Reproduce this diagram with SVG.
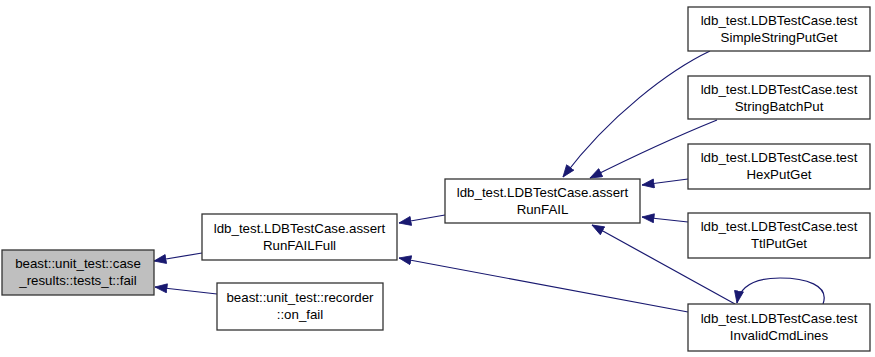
<svg xmlns="http://www.w3.org/2000/svg" width="875" height="357" viewBox="0 0 875 357">
  <style>
    .node rect { fill: #ffffff; stroke: #333333; stroke-width: 1.3; }
    .node.current rect { fill: #bfbfbf; }
    .node text { font-family: "Liberation Sans", Arial, sans-serif; font-size: 13.3px; fill: #000000; text-anchor: middle; }
    .edge { fill: none; stroke: #191970; stroke-width: 1.2; marker-end: url(#arrow); }
  </style>
  <defs>
    <marker id="arrow" markerUnits="userSpaceOnUse" markerWidth="14" markerHeight="11" refX="12.5" refY="5" orient="auto">
      <path d="M0.5,0.5 L12.5,5 L0.5,9.5 z" fill="#191970" stroke="#191970" stroke-width="0.8"/>
    </marker>
  </defs>
  <rect width="875" height="357" fill="#ffffff"/>

  <g id="edges">
    <path class="edge" d="M202,253 L154,261"/>
    <path class="edge" d="M217,294 L155,287"/>
    <path class="edge" d="M445,215 L399,223"/>
    <path class="edge" d="M688,312 L399,258"/>
    <path class="edge" d="M710,51 C670,70 610,115 563,177"/>
    <path class="edge" d="M717,120 C680,135 630,158 590,178"/>
    <path class="edge" d="M688,179 L642,185"/>
    <path class="edge" d="M688,222 L642,217"/>
    <path class="edge" d="M735,304 L592,225"/>
    <path class="edge" d="M823,304 C830,285 805,278 780,278 C755,278 740,285 737,303"/>
  </g>

  <g id="node-fail" class="node current">
    <rect x="2" y="250" width="152" height="45"/>
    <text x="78" y="268">beast::unit_test::case</text>
    <text x="78" y="285">_results::tests_t::fail</text>
  </g>
  <g id="node-assertRunFAILFull" class="node">
    <rect x="202" y="214" width="195" height="46"/>
    <text x="299.5" y="233">ldb_test.LDBTestCase.assert</text>
    <text x="299.5" y="250">RunFAILFull</text>
  </g>
  <g id="node-on_fail" class="node">
    <rect x="217" y="283" width="166" height="47"/>
    <text x="300" y="302">beast::unit_test::recorder</text>
    <text x="300" y="319">::on_fail</text>
  </g>
  <g id="node-assertRunFAIL" class="node">
    <rect x="445" y="179" width="195" height="44"/>
    <text x="542.5" y="197">ldb_test.LDBTestCase.assert</text>
    <text x="542.5" y="214">RunFAIL</text>
  </g>
  <g id="node-SimpleStringPutGet" class="node">
    <rect x="688" y="7" width="182" height="44"/>
    <text x="779" y="25">ldb_test.LDBTestCase.test</text>
    <text x="779" y="42">SimpleStringPutGet</text>
  </g>
  <g id="node-StringBatchPut" class="node">
    <rect x="688" y="76" width="182" height="43"/>
    <text x="779" y="94">ldb_test.LDBTestCase.test</text>
    <text x="779" y="111">StringBatchPut</text>
  </g>
  <g id="node-HexPutGet" class="node">
    <rect x="688" y="144" width="182" height="45"/>
    <text x="779" y="162">ldb_test.LDBTestCase.test</text>
    <text x="779" y="179">HexPutGet</text>
  </g>
  <g id="node-TtlPutGet" class="node">
    <rect x="688" y="213" width="182" height="45"/>
    <text x="779" y="231">ldb_test.LDBTestCase.test</text>
    <text x="779" y="248">TtlPutGet</text>
  </g>
  <g id="node-InvalidCmdLines" class="node">
    <rect x="688" y="304" width="182" height="47"/>
    <text x="779" y="323">ldb_test.LDBTestCase.test</text>
    <text x="779" y="340">InvalidCmdLines</text>
  </g>
</svg>
